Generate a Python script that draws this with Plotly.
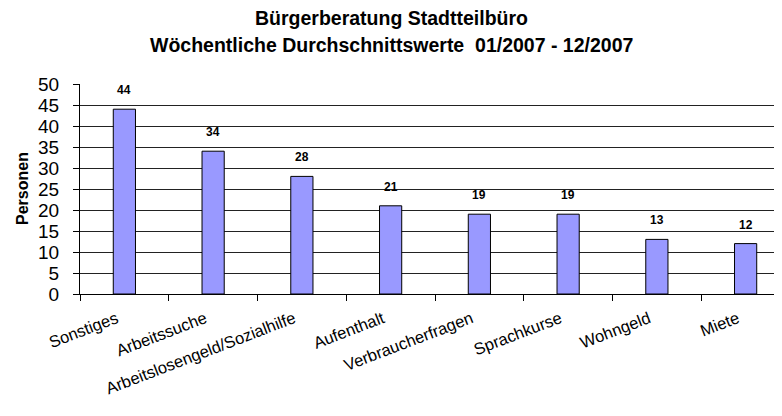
import plotly.graph_objects as go

categories = ["Sonstiges", "Arbeitssuche", "Arbeitslosengeld/Sozialhilfe", "Aufenthalt",
              "Verbraucherfragen", "Sprachkurse", "Wohngeld", "Miete"]
values = [44, 34, 28, 21, 19, 19, 13, 12]
y_ticks = [0, 5, 10, 15, 20, 25, 30, 35, 40, 45, 50]
title_line1 = "Bürgerberatung Stadtteilbüro"
title_line2 = "Wöchentliche Durchschnittswerte  01/2007 - 12/2007"
y_title = "Personen"

FONT = "Liberation Sans, Arial, sans-serif"

# page body adds an 8px offset; layout in figure pixels
L, T, B_PX, H_PLOT = 72, 76, 286, 210
W_PLOT = 782 - L

fig = go.Figure()
fig.add_trace(go.Bar(
    x=categories, y=values, width=0.25,
    marker=dict(color="#9999FF", line=dict(color="#000000", width=1)),
    hoverinfo="x+y",
))

for c, v in zip(categories, values):
    fig.add_annotation(x=c, y=v, text=f"<b>{v}</b>", showarrow=False,
                       yanchor="bottom", yshift=10,
                       font=dict(family=FONT, size=12, color="#000"))

fig.add_annotation(xref="paper", yref="paper", x=(383 - L) / W_PLOT, y=(B_PX - 10) / H_PLOT,
                   text=f"<b>{title_line1}</b>", showarrow=False, yanchor="middle",
                   xanchor="center", borderpad=0,
                   font=dict(family=FONT, size=19.5, color="#000"))
fig.add_annotation(xref="paper", yref="paper", x=(383 - L) / W_PLOT, y=(B_PX - 37) / H_PLOT,
                   text=f"<b>{title_line2}</b>", showarrow=False, yanchor="middle",
                   xanchor="center", borderpad=0,
                   font=dict(family=FONT, size=19.5, color="#000"))

fig.add_annotation(xref="paper", yref="paper", x=(14 - L) / W_PLOT, y=0.5,
                   text=f"<b>{y_title}</b>", showarrow=False, textangle=-90,
                   xanchor="center", yanchor="middle",
                   font=dict(family=FONT, size=16, color="#000"))

fig.update_layout(
    width=782, height=416,
    margin=dict(l=L, r=0, t=T, b=416 - B_PX, autoexpand=False),
    paper_bgcolor="white", plot_bgcolor="white",
    showlegend=False,
    bargap=0.75,
    xaxis=dict(
        type="category",
        range=[-0.5, 7.5],
        automargin=False,
        showline=True, linecolor="#000", linewidth=1,
        ticks="outside", tickson="boundaries", ticklen=6, tickcolor="#000",
        tickangle=-21, ticklabelstandoff=8, ticklabelshift=-8,
        tickfont=dict(family=FONT, size=16.5, color="#000"),
        showgrid=False,
    ),
    yaxis=dict(
        range=[0, 50], tickvals=y_ticks,
        automargin=False,
        showline=True, linecolor="#000", linewidth=1,
        ticks="outside", ticklen=6, tickcolor="#000", ticklabelstandoff=10,
        tickfont=dict(family=FONT, size=19, color="#000"),
        showgrid=True, gridcolor="#222", gridwidth=1,
        zeroline=False,
    ),
)

fig.write_html("out.html")
